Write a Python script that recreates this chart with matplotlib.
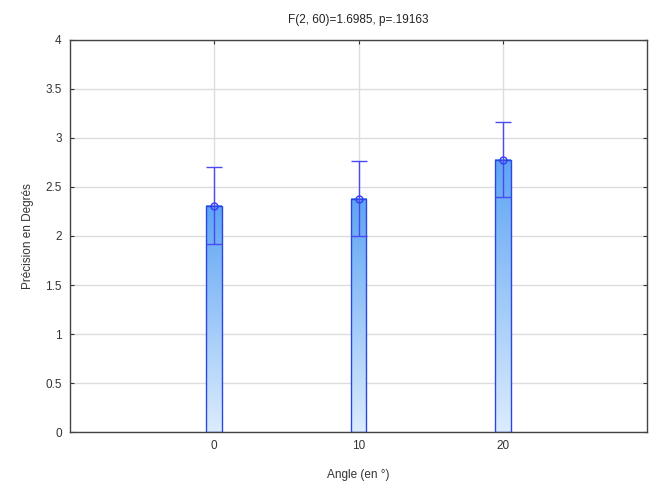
import numpy as np
import matplotlib
matplotlib.use("Agg")
import matplotlib.pyplot as plt
from matplotlib.colors import LinearSegmentedColormap

plt.rcParams['font.family'] = ['Liberation Sans', 'DejaVu Sans']

angles = [0, 10, 20]
means = [2.31, 2.38, 2.78]
errors = [0.39, 0.385, 0.385]
tick_labels = ['0', '10', '20']
title = "F(2, 60)=1.6985, p=.19163"

fig = plt.figure(figsize=(6.51, 4.84), dpi=100)
ax = fig.add_axes([0.1075, 0.1074, 0.9939 - 0.1075, 0.9174 - 0.1074])

width = 1.1
cmap = LinearSegmentedColormap.from_list('g', ['#dcecfd', '#5ea4f4'])
grad = np.linspace(0, 1, 256).reshape(-1, 1)
for x, m in zip(angles, means):
    ax.imshow(grad, extent=(x - width / 2, x + width / 2, 0, m), origin='lower',
              aspect='auto', cmap=cmap, zorder=2)
    ax.bar(x, m, width=width, facecolor='none', edgecolor='#2a48e0', linewidth=1.0, zorder=3)

ax.errorbar(angles, means, yerr=errors, fmt='o', color='#3a3af5', ecolor='#4a4af5',
            elinewidth=1.0, capsize=5.8, capthick=1.0, markersize=5,
            markerfacecolor='none', markeredgewidth=1.0, zorder=4)

ax.set_xlim(-10, 30)
ax.set_ylim(0, 4)
ax.set_xticks(angles)
ax.set_xticklabels(tick_labels)
ax.set_yticks(np.arange(0, 4.01, 0.5))
ax.set_yticklabels(['0', '0.5', '1', '1.5', '2', '2.5', '3', '3.5', '4'])
ax.grid(True, color='#dcdcdc', linewidth=1.0, zorder=0)
ax.set_axisbelow(True)
ax.tick_params(direction='in', length=3, top=True, right=True, labelsize=8.5,
               colors='#333333', pad=6)
for s in ax.spines.values():
    s.set_color('#444444')
    s.set_linewidth(1.0)

ax.set_title(title, fontsize=8.5, color='#222222', pad=12)
ax.set_xlabel('Angle (en °)', fontsize=8.5, color='#333333', labelpad=12)
ax.set_ylabel('Précision en Degrés', fontsize=8.5, color='#333333', labelpad=8)

fig.savefig('out.png', dpi=100)
